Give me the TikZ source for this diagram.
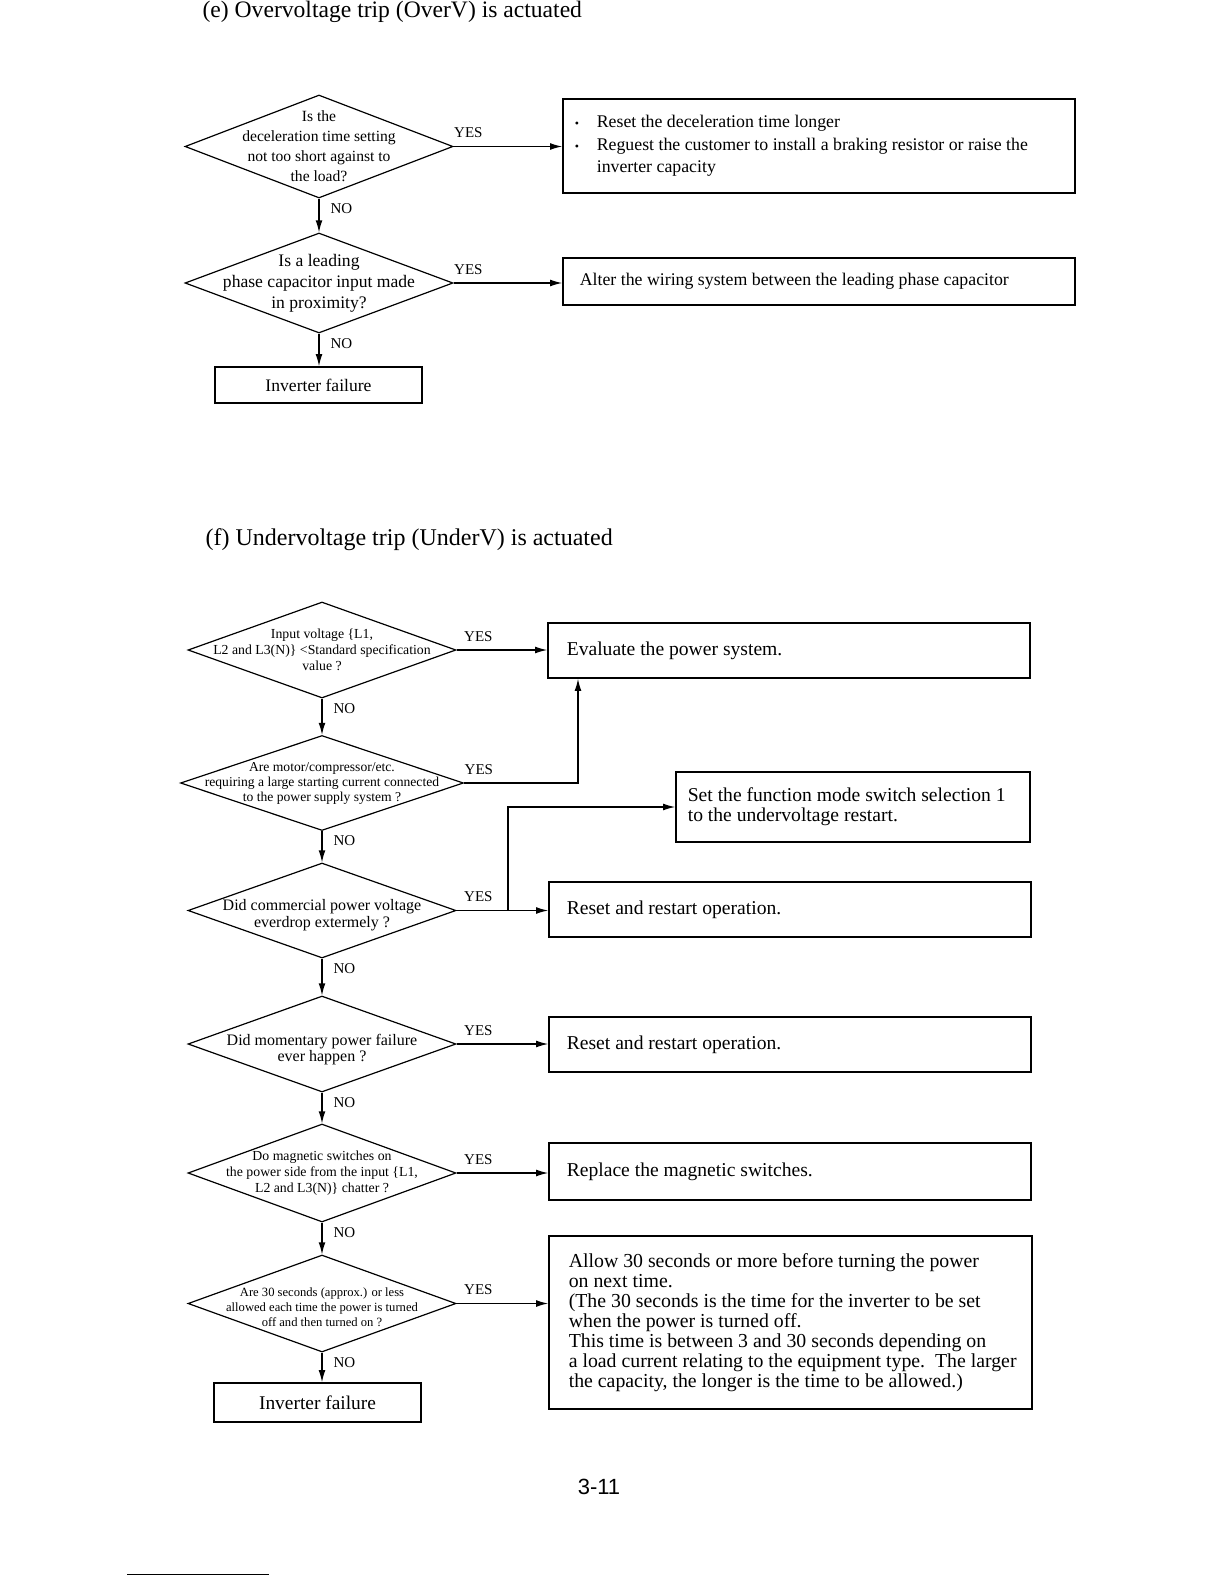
\documentclass[tikz,border=0pt]{standalone}
\usepackage{fontspec}
\setmainfont{Liberation Serif}
\newfontfamily\pagenofont{Liberation Sans}
\usetikzlibrary{arrows.meta,positioning,shapes.geometric}

\newcommand{\fsz}[2]{\fontsize{#1}{#2}\selectfont}

\begin{document}
\begin{tikzpicture}[x=0.5pt,y=-0.5pt,>={Latex[length=6pt,width=3.4pt]},line width=0.6pt,
    quest/.style={draw,diamond,inner sep=0pt,minimum width=134pt,minimum height=48pt},
    qtext/.style={align=center,inner sep=0pt},
    act/.style={draw,line width=0.8pt,inner sep=0pt},
    acttext/.style={align=left,inner sep=0pt},
    fail/.style={draw,line width=0.8pt,minimum width=103.5pt,inner sep=0pt},
    yes/.style={anchor=south west,inner sep=0pt,font=\fsz{7.5}{8},yshift=4pt},
    no/.style={anchor=north west,inner sep=0pt,font=\fsz{7.5}{8},xshift=5.5pt,yshift=-2pt}]
  \useasboundingbox (0,0) rectangle (1224,1584);

  \node[font=\fsz{11.8}{14},anchor=west,inner sep=0pt] (titleE) at (202,12) {(e) Overvoltage trip (OverV) is actuated};
  \node[quest,minimum height=51.5pt] (q1) at (319,146.5) {};
  \node[qtext,font=\fsz{7.8}{10}] (q1t) at (q1) {Is the\\deceleration time setting\\not too short against to\\the load?};
  \node[quest,minimum height=50pt] (q2) at (319,283) {};
  \node[qtext,font=\fsz{8.8}{10.5}] (q2t) at (q2) {Is a leading\\phase capacitor input made\\in proximity?};
  \node[fail,minimum height=18pt,font=\fsz{8.8}{10}] (fail1) at (318.5,385) {Inverter failure};
  \node[act,minimum width=256pt,minimum height=47pt] (act1) at (819,146) {};
  \node[acttext,font=\fsz{8.9}{11.2},right=6pt of act1.west] (act1t)
    {\makebox[11pt][l]{\fsz{6}{6}\textbullet}Reset the deceleration time longer\\
     \makebox[11pt][l]{\fsz{6}{6}\textbullet}Reguest the customer to install a braking resistor or raise the\\
     \hspace*{11pt}inverter capacity};
  \node[act,minimum width=256pt,minimum height=23.5pt] (act2) at (819,281.5) {};
  \node[acttext,font=\fsz{8.9}{11},right=8.5pt of act2.west] (act2t) {Alter the wiring system between the leading phase capacitor};
  \draw[->] (q1.east) -- node[yes,pos=0] {YES} (q1.east -| act1.west);
  \draw[->] (q2.east) -- node[yes,pos=0] {YES} (q2.east -| act2.west);
  \draw[->] (q1.south) -- node[no,pos=0] {NO} (q2.north);
  \draw[->] (q2.south) -- node[no,pos=0] {NO} (q2.south |- fail1.north);

  \node[font=\fsz{12}{14},anchor=west,inner sep=0pt] (titleF) at (205,540) {(f) Undervoltage trip (UnderV) is actuated};
  \node[quest] (qa) at (322,650) {};
  \node[qtext,font=\fsz{6.9}{8}] (qat) at (qa) {Input voltage \{L1,\\L2 and L3(N)\} <Standard specification\\value ?};
  \node[quest,minimum width=141.5pt,minimum height=47.5pt] (qb) at (322,783) {};
  \node[qtext,font=\fsz{6.8}{7.5}] (qbt) at (qb) {Are motor/compressor/etc.\\requiring a large starting current connected\\to the power supply system ?};
  \node[quest,minimum height=47.5pt] (qc) at (322,910.5) {};
  \node[qtext,font=\fsz{8}{8.5},yshift=-2.5pt] (qct) at (qc) {Did commercial power voltage\\everdrop extermely ?};
  \node[quest] (qd) at (322,1044) {};
  \node[qtext,font=\fsz{8}{8},yshift=-3pt] (qdt) at (qd) {Did momentary power failure\\ever happen ?};
  \node[quest,minimum height=49pt] (qe) at (322,1173) {};
  \node[qtext,font=\fsz{6.9}{8}] (qet) at (qe) {Do magnetic switches on\\the power side from the input \{L1,\\L2 and L3(N)\} chatter ?};
  \node[quest,minimum height=48.5pt] (qf) at (322,1303.5) {};
  \node[qtext,font=\fsz{6.3}{7.5},yshift=-2pt] (qft) at (qf) {Are 30 seconds (approx.) or less\\allowed each time the power is turned\\off and then turned on ?};
  \node[fail,minimum height=19.5pt,font=\fsz{9.7}{10}] (fail2) at (317.5,1402.5) {Inverter failure};

  \node[act,minimum width=241pt,minimum height=27.5pt] (eval) at (789,650.5) {};
  \node[acttext,font=\fsz{9.8}{10},right=9.5pt of eval.west] (evalt) {Evaluate the power system.};
  \node[act,minimum width=177pt,minimum height=35pt] (setfn) at (853,807) {};
  \node[acttext,font=\fsz{9.8}{10},right=6pt of setfn.west] (setfnt) {Set the function mode switch selection 1\\to the undervoltage restart.};
  \node[act,minimum width=241pt,minimum height=27.5pt] (resetA) at (790,909.5) {};
  \node[acttext,font=\fsz{9.8}{10},right=9pt of resetA.west] (resetAt) {Reset and restart operation.};
  \node[act,minimum width=241pt,minimum height=27.5pt] (resetB) at (790,1044.5) {};
  \node[acttext,font=\fsz{9.8}{10},right=9pt of resetB.west] (resetBt) {Reset and restart operation.};
  \node[act,minimum width=241pt,minimum height=28.5pt] (replace) at (790,1171.5) {};
  \node[acttext,font=\fsz{9.8}{10},right=9pt of replace.west] (replacet) {Replace the magnetic switches.};
  \node[act,minimum width=241.5pt,minimum height=86.5pt] (allow) at (790.5,1322.5) {};
  \node[acttext,font=\fsz{9.9}{10},right=10pt of allow.west] (allowt) {Allow 30 seconds or more before turning the power\\on next time.\\(The 30 seconds is the time for the inverter to be set\\when the power is turned off.\\This time is between 3 and 30 seconds depending on\\a load current relating to the equipment type.\ \ The larger\\the capacity, the longer is the time to be allowed.)};

  \coordinate (bturn) at (578,0);
  \coordinate (cjoin) at (508,0);
  \draw[->] (qa.east) -- node[yes,pos=0,xshift=3.5pt] {YES} (qa.east -| eval.west);
  \draw[->] (qb.east) -- node[yes,pos=0] {YES} (qb.east -| bturn) -- (bturn |- eval.south);
  \draw[->] (qc.east) -- node[yes,pos=0,xshift=3.5pt] {YES} (qc.east -| resetA.west);
  \draw[->] (qc.east -| cjoin) |- (setfn.west);
  \draw[->] (qd.east) -- node[yes,pos=0,xshift=3.5pt] {YES} (qd.east -| resetB.west);
  \draw[->] (qe.east) -- node[yes,pos=0,xshift=3.5pt] {YES} (qe.east -| replace.west);
  \draw[->] (qf.east) -- node[yes,pos=0,xshift=3.5pt] {YES} (qf.east -| allow.west);
  \draw[->] (qa.south) -- node[no,pos=0] {NO} (qb.north);
  \draw[->] (qb.south) -- node[no,pos=0] {NO} (qc.north);
  \draw[->] (qc.south) -- node[no,pos=0] {NO} (qd.north);
  \draw[->] (qd.south) -- node[no,pos=0] {NO} (qe.north);
  \draw[->] (qe.south) -- node[no,pos=0] {NO} (qf.north);
  \draw[->] (qf.south) -- node[no,pos=0] {NO} (qf.south |- fail2.north);

  \node[font=\pagenofont\fsz{11}{12}] (pageno) at (599,1487) {3-11};
  \draw[line width=0.5pt] (127,1574) -- (269,1574);
\end{tikzpicture}
\end{document}
